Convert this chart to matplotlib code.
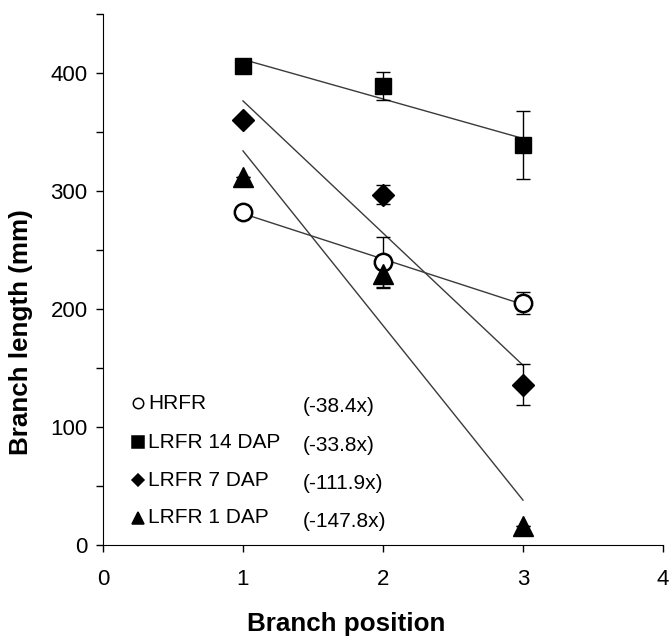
import numpy as np
import matplotlib
matplotlib.use("Agg")
import matplotlib.pyplot as plt
from matplotlib.ticker import MultipleLocator

plt.rcParams['font.family'] = ['Liberation Sans', 'DejaVu Sans']

positions = [1, 2, 3]

series_names = ["HRFR", "LRFR 14 DAP", "LRFR 7 DAP", "LRFR 1 DAP"]
slope_labels = ["(-38.4x)", "(-33.8x)", "(-111.9x)", "(-147.8x)"]

hrfr = [282, 240, 205]
hrfr_err = [0, 21, 9]
lrfr14 = [406, 389, 339]
lrfr14_err = [0, 12, 29]
lrfr7 = [360, 297, 136]
lrfr7_err = [0, 8, 17]
lrfr1 = [312, 230, 16]
lrfr1_err = [0, 12, 0]

values = [hrfr, lrfr14, lrfr7, lrfr1]
errors = [hrfr_err, lrfr14_err, lrfr7_err, lrfr1_err]
markers = ["o", "s", "D", "^"]
sizes = [12.5, 11.5, 11, 14]
faces = ["white", "black", "black", "black"]

# legend rows, placed in data coordinates
legend_y = [120, 87, 55, 23]

W, H = 670, 639
fig = plt.figure(figsize=(W / 100, H / 100), dpi=100)
ax = fig.add_axes([103 / W, 1 - 545 / H, 560 / W, 531 / H])

x = np.array(positions, dtype=float)
for vals, errs, m, ms, fc in zip(values, errors, markers, sizes, faces):
    # linear trend line over the three positions
    k, b = np.polyfit(x, vals, 1)
    ax.plot([x[0], x[-1]], [k * x[0] + b, k * x[-1] + b], color="#3a3a3a", lw=1.0, zorder=2)
    ax.errorbar(x, vals, yerr=errs, fmt="none", ecolor="black", elinewidth=1.0,
                capsize=5, capthick=1.0, zorder=3)
    ax.plot(x, vals, linestyle="none", marker=m, markersize=ms, markerfacecolor=fc,
            markeredgecolor="black", markeredgewidth=1.8 if fc == "white" else 1.0, zorder=4)

legend_ms = [7.5, 8.5, 6.5, 9]
for name, slope, ly, m, ms, fc in zip(series_names, slope_labels, legend_y, markers, legend_ms, faces):
    ax.plot([0.25], [ly], marker=m, markersize=ms, markerfacecolor=fc,
            markeredgecolor="black", markeredgewidth=1.1, linestyle="none", clip_on=False)
    ax.text(0.32, ly, name, fontsize=15, va="center", ha="left")
    ax.text(1.43, ly - 3, slope, fontsize=15, va="center", ha="left")

ax.set_xlim(0, 4)
ax.set_ylim(0, 450)
ax.xaxis.set_major_locator(MultipleLocator(1))
ax.yaxis.set_major_locator(MultipleLocator(100))
ax.yaxis.set_minor_locator(MultipleLocator(50))
ax.spines["top"].set_visible(False)
ax.spines["right"].set_visible(False)
ax.tick_params(axis="both", which="major", direction="out", length=5, width=1, labelsize=16)
ax.tick_params(axis="x", which="major", pad=12)
ax.tick_params(axis="y", which="major", pad=6)
ax.tick_params(axis="y", which="minor", direction="out", length=5, width=1)
ax.tick_params(axis="x", which="minor", length=0)

fig.text(346 / W, 1 - 631 / H, "Branch position", fontsize=18.7, fontweight="bold",
         ha="center", va="baseline")
fig.text(28 / W, 1 - 332 / H, "Branch length (mm)", fontsize=18.7, fontweight="bold",
         ha="center", va="baseline", rotation=90, rotation_mode="anchor")

fig.savefig("out.png", dpi=100)
